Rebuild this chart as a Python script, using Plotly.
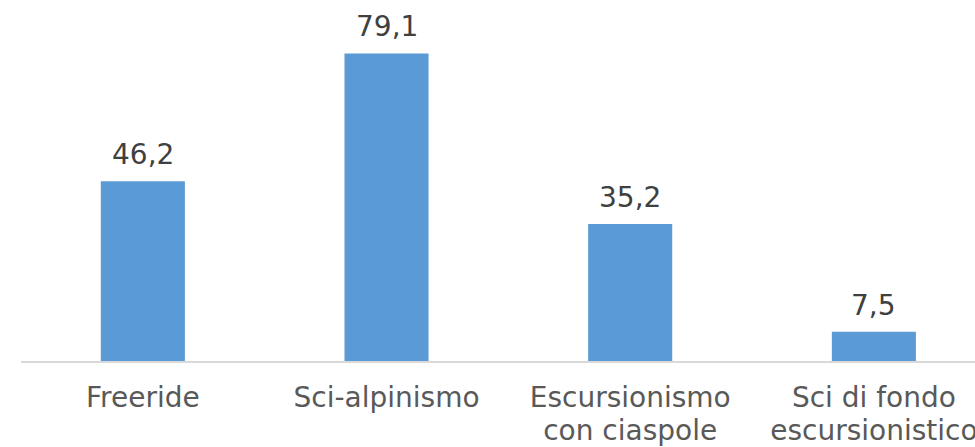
import plotly.graph_objects as go

categories_line1 = ["Freeride", "Sci-alpinismo", "Escursionismo", "Sci di fondo"]
categories_line2 = ["", "", "con ciaspole", "escursionistico"]
values = [46.2, 79.1, 35.2, 7.5]
value_labels = ["46,2", "79,1", "35,2", "7,5"]

FONT = "DejaVu Sans, Verdana, sans-serif"
positions = list(range(len(values)))

fig = go.Figure()
fig.add_trace(go.Bar(
    x=positions,
    y=values,
    width=0.345,
    marker=dict(color="#5b9bd5", line=dict(width=0)),
    hoverinfo="skip",
))
# invisible helper trace so the second-line tick axis is drawn
fig.add_trace(go.Scatter(x=positions, y=[0] * len(values), xaxis="x2", mode="markers",
                         marker=dict(opacity=0), hoverinfo="skip"))

for i, (v, lab) in enumerate(zip(values, value_labels)):
    fig.add_annotation(x=i, y=v, text=lab, showarrow=False, yanchor="bottom",
                       yshift=8, font=dict(family=FONT, size=28, color="#404040"))

tickfont = dict(family=FONT, size=28, color="#595959")
fig.update_layout(
    width=975, height=447,
    margin=dict(l=21, r=0, t=11, b=86),
    paper_bgcolor="white", plot_bgcolor="white",
    showlegend=False,
    font=dict(family=FONT, size=28, color="#595959"),
    xaxis=dict(
        tickmode="array", tickvals=positions, ticktext=categories_line1,
        range=[-0.5, 3.415], showgrid=False, zeroline=False, automargin=False,
        showline=True, linecolor="#d9d9d9", linewidth=2,
        ticks="outside", ticklen=10, tickcolor="rgba(0,0,0,0)",
        tickfont=tickfont, ticklabeloverflow="allow",
    ),
    xaxis2=dict(
        overlaying="x", matches="x", anchor="y", side="bottom",
        tickmode="array", tickvals=positions, ticktext=categories_line2,
        showgrid=False, zeroline=False, showline=False, automargin=False,
        ticks="outside", ticklen=44, tickcolor="rgba(0,0,0,0)",
        tickfont=tickfont, ticklabeloverflow="allow",
    ),
    yaxis=dict(range=[0, 90], visible=False, showgrid=False, zeroline=False, automargin=False),
)

fig.write_html("out.html", config={"displayModeBar": False},
               post_script="document.body.style.margin='0px';")
